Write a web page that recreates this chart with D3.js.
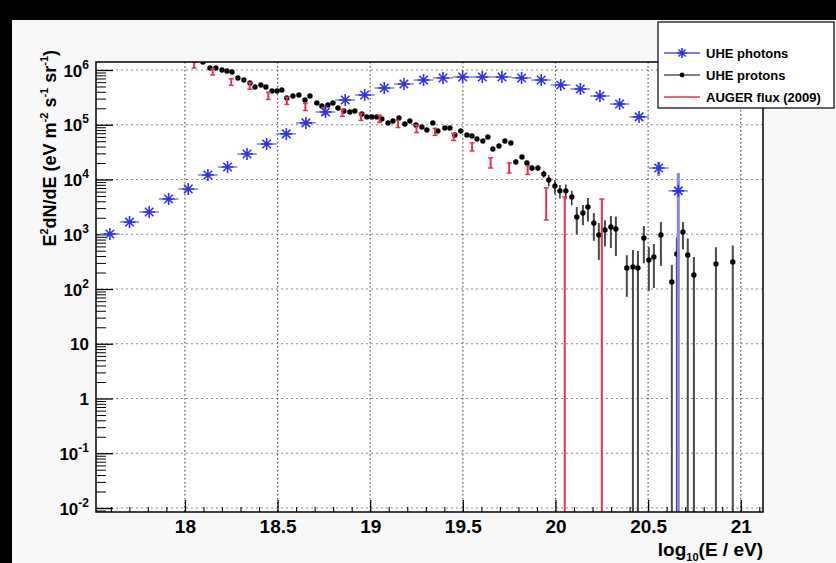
<!DOCTYPE html>
<html>
<head>
<meta charset="utf-8">
<script src="https://cdn.jsdelivr.net/npm/d3@7"></script>
<style>
  html, body { margin: 0; padding: 0; background: #000; }
  svg { display: block; }
  text { font-family: "Liberation Sans", Arial, Helvetica, sans-serif; font-weight: bold; fill: #000; }
</style>
</head>
<body>
<svg id="chart" width="836" height="563"></svg>
<script>
// ---- UHE photon spectrum (log10 E, E^2 dN/dE, error) ----
const photonLogE = [17.595, 17.701, 17.807, 17.912, 18.018, 18.124, 18.230, 18.335, 18.441, 18.547,
                    18.653, 18.759, 18.865, 18.970, 19.076, 19.182, 19.288, 19.393, 19.499, 19.605,
                    19.711, 19.817, 19.923, 20.028, 20.134, 20.240, 20.346, 20.451, 20.557, 20.663];
const photonFlux = [1.01e3, 1.67e3, 2.55e3, 4.4e3, 6.7e3, 1.21e4, 1.69e4, 2.92e4, 4.45e4, 6.8e4,
                    1.08e5, 1.71e5, 2.83e5, 3.49e5, 4.69e5, 5.55e5, 6.56e5, 7.15e5, 7.45e5, 7.45e5,
                    7.45e5, 7.15e5, 6.56e5, 5.32e5, 4.5e5, 3.35e5, 2.39e5, 1.39e5, 1.62e4, 6.2e3];
const photonErr  = [0, 0, 0, 0, 0, 0, 0, 0, 0, 0,
                    0, 0, 0, 0, 0, 0, 0, 0, 0, 0,
                    0, 0, 0, 0, 0, 0, 0, 0, 4.7e3, 7.0e3];
const photonBinHalfWidth = 0.053;

// ---- UHE proton spectrum ----
const protonLogE = [18.097, 18.135, 18.167, 18.200, 18.227, 18.254, 18.286, 18.318, 18.351, 18.378,
                    18.410, 18.437, 18.470, 18.497, 18.523, 18.550, 18.583, 18.615, 18.648, 18.675,
                    18.712, 18.739, 18.772, 18.799, 18.826, 18.858, 18.890, 18.917, 18.955, 18.982,
                    19.009, 19.036, 19.063, 19.096, 19.123, 19.155, 19.187, 19.214, 19.247, 19.279,
                    19.306, 19.338, 19.365, 19.403, 19.430, 19.457, 19.489, 19.522, 19.549, 19.576,
                    19.608, 19.635, 19.662, 19.695, 19.727, 19.759, 19.786, 19.819, 19.846, 19.873,
                    19.905, 19.937, 19.964, 19.997, 20.024, 20.056, 20.088, 20.115, 20.148, 20.175,
                    20.207, 20.234, 20.267, 20.299, 20.326, 20.385, 20.418, 20.445, 20.477, 20.504,
                    20.531, 20.569, 20.628, 20.655, 20.688, 20.714, 20.747, 20.866, 20.957];
const protonFlux = [1.40e6, 1.09e6, 1.09e6, 1.00e6, 9.6e5, 9.2e5, 7.15e5, 6.56e5, 5.79e5, 4.89e5,
                    5.32e5, 4.89e5, 4.13e5, 4.13e5, 4.31e5, 3.08e5, 3.35e5, 3.49e5, 2.83e5, 3.35e5,
                    2.49e5, 2.20e5, 2.29e5, 2.49e5, 2.02e5, 1.78e5, 1.71e5, 1.78e5, 1.57e5, 1.39e5,
                    1.39e5, 1.39e5, 1.27e5, 1.08e5, 1.17e5, 1.33e5, 1.03e5, 1.17e5, 9.9e4, 9.1e4,
                    8.0e4, 1.08e5, 7.7e4, 8.7e4, 8.7e4, 6.5e4, 7.7e4, 6.5e4, 6.24e4, 5.5e4,
                    5.05e4, 5.97e4, 3.61e4, 4.09e4, 5.05e4, 4.64e4, 2.09e4, 2.58e4, 2.0e4, 1.62e4,
                    1.62e4, 1.26e4, 9.8e3, 7.6e3, 6.2e3, 6.2e3, 4.8e3, 2.07e3, 2.44e3, 3.15e3,
                    1.60e3, 9.7e2, 1.20e3, 1.36e3, 1.25e3, 242, 252, 242, 855, 339,
                    384, 968, 134, 436, 1100, 418, 180, 287, 311];
const protonErr  = [2.5e4, 2e4, 2e4, 2e4, 1.8e4, 1.8e4, 1.5e4, 1.4e4, 1.3e4, 1.2e4,
                    1.2e4, 1.2e4, 1.1e4, 1.1e4, 1.1e4, 9e3, 9e3, 9e3, 8e3, 9e3,
                    7e3, 7e3, 7e3, 7e3, 6e3, 6e3, 6e3, 6e3, 5e3, 5e3,
                    5e3, 5e3, 5e3, 4e3, 4e3, 5e3, 4e3, 4e3, 4e3, 4e3,
                    3.5e3, 4e3, 3.5e3, 3.5e3, 3.5e3, 3e3, 3.5e3, 3e3, 3e3, 3e3,
                    2.8e3, 3e3, 2.5e3, 2.6e3, 2.8e3, 2.8e3, 2e3, 2.2e3, 2e3, 1.9e3,
                    1.9e3, 1.8e3, 2.3e3, 2.2e3, 1.7e3, 1.9e3, 1.4e3, 1.08e3, 9.8e2, 1.44e3,
                    8.4e2, 6.3e2, 6.0e2, 8.0e2, 8.5e2, 170, 263, 250, 560, 246,
                    280, 703, 140, 440, 571, 420, 204, 290, 315];

// ---- AUGER flux (2009) ----
const augerLogE = [18.05, 18.15, 18.25, 18.35, 18.45, 18.55, 18.65, 18.75, 18.85, 18.95, 19.05,
                   19.15, 19.25, 19.35, 19.45, 19.55, 19.65, 19.75, 19.85, 19.95, 20.05, 20.25];
const augerFlux = [1.23e6, 9.2e5, 6.0e5, 5.1e5, 3.35e5, 2.72e5, 2.11e5, 1.78e5, 1.64e5, 1.39e5, 1.27e5,
                   1.03e5, 8.4e4, 7.4e4, 6.0e4, 3.92e4, 2.0e4, 1.62e4, 1.49e4, 3.72e3, 2.5e3, 2.3e3];
const augerErrUp = [1.6e5, 1.3e5, 9e4, 8e4, 5.5e4, 4.5e4, 3.5e4, 3e4, 2.7e4, 2.3e4, 2.1e4,
                    1.7e4, 1.4e4, 1.2e4, 1.0e4, 7.5e3, 4.8e3, 3.9e3, 3.0e3, 3.3e3, 2.3e3, 2.1e3];
const augerErrDown = [1.4e5, 1.1e5, 7.5e4, 6.5e4, 4.5e4, 3.7e4, 2.9e4, 2.5e4, 2.2e4, 1.9e4, 1.7e4,
                      1.4e4, 1.2e4, 1.0e4, 8.5e3, 6.0e3, 3.8e3, 3.1e3, 2.5e3, 1.9e3, 2.5e3, 2.3e3];

// ---- axis ticks and legend ----
const xMajorTicks = [18, 18.5, 19, 19.5, 20, 20.5, 21];
const yDecades = [-2, -1, 0, 1, 2, 3, 4, 5, 6];
const legendLabels = ["UHE photons", "UHE protons", "AUGER flux (2009)"];

// ---- layout ----
const W = 836, H = 563;
const frame = { left: 96, right: 763, top: 62, bottom: 512 };
const colors = { photon: "#3030f0", photonBar: "#7c7cf0", proton: "#000", protonTail: "#4a4a4a", auger: "#e5334f" };

const x = d3.scaleLinear().domain([17.52, 21.12]).range([frame.left, frame.right]);
const y = d3.scaleLog().domain([Math.pow(10, -2.073), Math.pow(10, 6.146)]).range([frame.bottom, frame.top]);

const svg = d3.select("#chart");

// canvas
svg.append("rect").attr("width", W).attr("height", H).attr("fill", "#000");
svg.append("rect").attr("x", 12).attr("y", 20).attr("width", W - 12).attr("height", H - 20).attr("fill", "#f8f8f8");
svg.append("rect")
  .attr("x", frame.left).attr("y", frame.top)
  .attr("width", frame.right - frame.left).attr("height", frame.bottom - frame.top)
  .attr("fill", "#fff");

svg.append("clipPath").attr("id", "plotClip")
  .append("rect")
  .attr("x", frame.left).attr("y", frame.top)
  .attr("width", frame.right - frame.left).attr("height", frame.bottom - frame.top);

// grid
const grid = svg.append("g");
grid.selectAll("line.hgrid").data(yDecades).join("line")
  .attr("x1", frame.left).attr("x2", frame.right)
  .attr("y1", d => y(Math.pow(10, d))).attr("y2", d => y(Math.pow(10, d)))
  .attr("stroke", "#8a8a8a").attr("stroke-width", 1).attr("stroke-dasharray", "2,3");
grid.selectAll("line.vgrid").data(xMajorTicks).join("line")
  .attr("x1", d => x(d)).attr("x2", d => x(d))
  .attr("y1", frame.top).attr("y2", frame.bottom)
  .attr("stroke", "#555").attr("stroke-width", 1.2).attr("stroke-dasharray", "1.5,2.5");

// axes (ticks drawn inside the frame)
const xMinor = d3.range(17.6, 21.12, 0.1).filter(v => Math.abs(v * 2 - Math.round(v * 2)) > 1e-6);
const xAxis = svg.append("g").attr("transform", `translate(0,${frame.bottom})`)
  .call(d3.axisBottom(x).tickValues(xMajorTicks).tickSize(-12).tickSizeOuter(0).tickPadding(8)
    .tickFormat(d3.format("")));
xAxis.select(".domain").remove();
xAxis.selectAll(".tick line").attr("stroke", "#000").attr("stroke-width", 1.3);
xAxis.selectAll(".tick text").attr("font-size", 19).attr("font-family", null).attr("fill", "#000");
const xAxisMinor = svg.append("g").attr("transform", `translate(0,${frame.bottom})`)
  .call(d3.axisBottom(x).tickValues(xMinor).tickSize(-5).tickSizeOuter(0).tickFormat(""));
xAxisMinor.select(".domain").remove();
xAxisMinor.selectAll(".tick line").attr("stroke", "#000").attr("stroke-width", 1.1);

const yMinor = [];
for (let e = -3; e <= 6; e++) for (let k = 2; k <= 9; k++) {
  const v = k * Math.pow(10, e);
  if (v > y.domain()[0] && v < y.domain()[1]) yMinor.push(v);
}
const yAxis = svg.append("g").attr("transform", `translate(${frame.left},0)`)
  .call(d3.axisLeft(y).tickValues(yDecades.map(d => Math.pow(10, d))).tickSize(-17).tickSizeOuter(0)
    .tickPadding(7).tickFormat(""));
yAxis.select(".domain").remove();
yAxis.selectAll(".tick line").attr("stroke", "#000").attr("stroke-width", 1.3);
yAxis.selectAll(".tick text").each(function (d) {
  const t = d3.select(this).attr("font-size", 17).attr("font-family", null).attr("fill", "#000")
    .attr("dy", "0.36em");
  const e = Math.round(Math.log10(d));
  if (e === 0) { t.text("1"); return; }
  if (e === 1) { t.text("10"); return; }
  t.append("tspan").text("10");
  t.append("tspan").attr("font-size", 12).attr("dy", -8).text(String(e));
});
const yAxisMinor = svg.append("g").attr("transform", `translate(${frame.left},0)`)
  .call(d3.axisLeft(y).tickValues(yMinor).tickSize(-10).tickSizeOuter(0).tickFormat(""));
yAxisMinor.select(".domain").remove();
yAxisMinor.selectAll(".tick line").attr("stroke", "#000").attr("stroke-width", 1);

// data layers
const plot = svg.append("g").attr("clip-path", "url(#plotClip)");
const lowerY = (v, e) => (v - e > 0 ? y(v - e) : frame.bottom + 5);

// protons
const protons = protonLogE.map((e, i) => ({ e, v: protonFlux[i], err: protonErr[i] }));
plot.append("g").selectAll("line").data(protons).join("line")
  .attr("x1", d => x(d.e)).attr("x2", d => x(d.e))
  .attr("y1", d => y(d.v + d.err)).attr("y2", d => lowerY(d.v, d.err))
  .attr("stroke", d => (d.e > 20.1 ? colors.protonTail : colors.proton))
  .attr("stroke-width", d => (d.e > 20.1 ? 2 : 1.2));
plot.append("g").selectAll("circle").data(protons).join("circle")
  .attr("cx", d => x(d.e)).attr("cy", d => y(d.v)).attr("r", 2.7)
  .attr("fill", colors.proton);

// AUGER
const auger = augerLogE.map((e, i) => ({ e, v: augerFlux[i], up: augerErrUp[i], dn: augerErrDown[i] }));
const ag = plot.append("g").attr("stroke", colors.auger);
ag.selectAll("line.bar").data(auger).join("line")
  .attr("x1", d => x(d.e)).attr("x2", d => x(d.e))
  .attr("y1", d => y(d.v + d.up)).attr("y2", d => lowerY(d.v, d.dn))
  .attr("stroke-width", 2);
ag.selectAll("line.capTop").data(auger).join("line")
  .attr("x1", d => x(d.e) - 2.5).attr("x2", d => x(d.e) + 2.5)
  .attr("y1", d => y(d.v + d.up)).attr("y2", d => y(d.v + d.up))
  .attr("stroke-width", 1.5);
ag.selectAll("line.capBot").data(auger.filter(d => d.v - d.dn > 0)).join("line")
  .attr("x1", d => x(d.e) - 2.5).attr("x2", d => x(d.e) + 2.5)
  .attr("y1", d => y(d.v - d.dn)).attr("y2", d => y(d.v - d.dn))
  .attr("stroke-width", 1.5);

// photons
const photons = photonLogE.map((e, i) => ({ e, v: photonFlux[i], err: photonErr[i] }));
const pg = plot.append("g");
pg.selectAll("line.xbar").data(photons).join("line")
  .attr("x1", d => x(d.e - photonBinHalfWidth)).attr("x2", d => x(d.e + photonBinHalfWidth))
  .attr("y1", d => y(d.v)).attr("y2", d => y(d.v))
  .attr("stroke", colors.photonBar).attr("stroke-width", 1.5);
pg.selectAll("line.ybar").data(photons.filter(d => d.err > 0)).join("line")
  .attr("x1", d => x(d.e)).attr("x2", d => x(d.e))
  .attr("y1", d => y(d.v + d.err)).attr("y2", d => lowerY(d.v, d.err))
  .attr("stroke", "#8585ea").attr("stroke-width", 3);

const starPath = r => {
  const a = r * Math.SQRT1_2;
  return `M${-r},0L${r},0M0,${-r}L0,${r}M${-a},${-a}L${a},${a}M${-a},${a}L${a},${-a}`;
};
pg.selectAll("path.star").data(photons).join("path")
  .attr("transform", d => `translate(${x(d.e)},${y(d.v)})`)
  .attr("d", starPath(6))
  .attr("fill", "none").attr("stroke", colors.photon).attr("stroke-width", 1.6);

// frame
svg.append("rect")
  .attr("x", frame.left).attr("y", frame.top)
  .attr("width", frame.right - frame.left).attr("height", frame.bottom - frame.top)
  .attr("fill", "none").attr("stroke", "#000").attr("stroke-width", 1.5);

// axis titles
const xt = svg.append("text").attr("x", frame.right).attr("y", 556)
  .attr("text-anchor", "end").attr("font-size", 19);
xt.append("tspan").text("log");
xt.append("tspan").attr("font-size", 11).attr("dy", 5).text("10");
xt.append("tspan").attr("dy", -5).text("(E / eV)");

const yt = svg.append("text").attr("transform", "translate(56,50) rotate(-90)")
  .attr("text-anchor", "end").attr("font-size", 18);
yt.append("tspan").text("E");
yt.append("tspan").attr("font-size", 11).attr("dy", -8).text("2");
yt.append("tspan").attr("dy", 8).text("dN/dE (eV m");
yt.append("tspan").attr("font-size", 11).attr("dy", -8).text("-2");
yt.append("tspan").attr("dy", 8).text(" s");
yt.append("tspan").attr("font-size", 11).attr("dy", -8).text("-1");
yt.append("tspan").attr("dy", 8).text(" sr");
yt.append("tspan").attr("font-size", 11).attr("dy", -8).text("-1");
yt.append("tspan").attr("dy", 8).text(")");

// legend
const lg = svg.append("g");
lg.append("rect").attr("x", 658).attr("y", 22).attr("width", 176).attr("height", 86)
  .attr("fill", "#fff").attr("stroke", "#000").attr("stroke-width", 1.2);
const rowY = [53, 75, 97];
lg.selectAll("text").data(legendLabels).join("text")
  .attr("x", 706).attr("y", (d, i) => rowY[i]).attr("dy", "0.36em")
  .attr("font-size", 13).text(d => d);
lg.append("line").attr("x1", 664).attr("x2", 700).attr("y1", rowY[0]).attr("y2", rowY[0])
  .attr("stroke", colors.photonBar).attr("stroke-width", 2);
lg.append("path").attr("transform", `translate(682,${rowY[0]})`).attr("d", starPath(5))
  .attr("fill", "none").attr("stroke", colors.photon).attr("stroke-width", 1.6);
lg.append("line").attr("x1", 664).attr("x2", 700).attr("y1", rowY[1]).attr("y2", rowY[1])
  .attr("stroke", "#000").attr("stroke-width", 1.2);
lg.append("circle").attr("cx", 682).attr("cy", rowY[1]).attr("r", 2.4).attr("fill", "#000");
lg.append("line").attr("x1", 664).attr("x2", 700).attr("y1", rowY[2]).attr("y2", rowY[2])
  .attr("stroke", colors.auger).attr("stroke-width", 1.5);
</script>
</body>
</html>
